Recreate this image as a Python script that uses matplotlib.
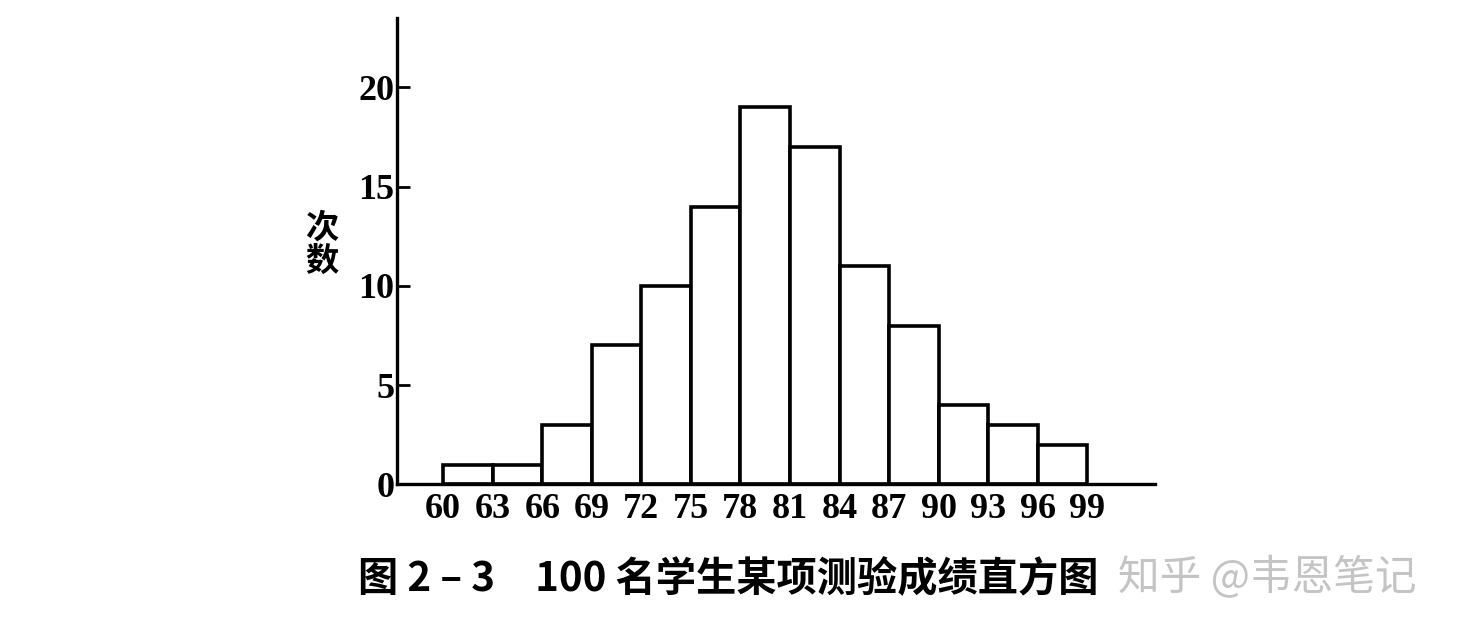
import matplotlib.pyplot as plt

# 成绩分组 (组界) 与各组次数
edges = [60, 63, 66, 69, 72, 75, 78, 81, 84, 87, 90, 93, 96, 99]
counts = [1, 1, 3, 7, 10, 14, 19, 17, 11, 8, 4, 3, 2]
yticks = [0, 5, 10, 15, 20]

title = "图 2 – 3　100 名学生某项测验成绩直方图"
ylabel = "次\n数"
mark = "知乎 @韦恩笔记"

plt.rcParams['font.family'] = ['Noto Sans CJK SC', 'DejaVu Sans']

fig = plt.figure(figsize=(14.68, 6.38), dpi=100)
ax = fig.add_axes([0.2704, 0.2408, 0.7868 - 0.2704, 0.9718 - 0.2408])

ax.bar(edges[:-1], counts, width=3, align='edge', color='white',
       edgecolor='black', linewidth=2.6)

ax.set_xlim(57.2, 103.1)
ax.set_ylim(0, 23.5)
ax.spines['top'].set_visible(False)
ax.spines['right'].set_visible(False)
for s in ['left', 'bottom']:
    ax.spines[s].set_linewidth(2.4)

ax.set_xticks(edges)
ax.set_xticklabels([str(e) for e in edges], family='Liberation Serif',
                   fontsize=26, fontweight='bold')
ax.tick_params(axis='x', length=0, pad=6)

ax.set_yticks(yticks)
ax.set_yticklabels([str(v) for v in yticks], family='Liberation Serif',
                   fontsize=26, fontweight='bold')
ax.tick_params(axis='y', direction='in', length=9, width=2, pad=2)

fig.text(322 / 1468, 1 - 245 / 638, ylabel, ha='center', va='center',
         fontsize=24, fontweight='bold', linespacing=1.0)

fig.text(728 / 1468, 1 - 580 / 638, title, ha='center', va='center',
         fontsize=29, fontweight='bold')

fig.text(1118 / 1468, 1 - 578 / 638, mark, ha='left', va='center',
         fontsize=30, color='#c4c4c4')

fig.savefig('out.png', dpi=100)
